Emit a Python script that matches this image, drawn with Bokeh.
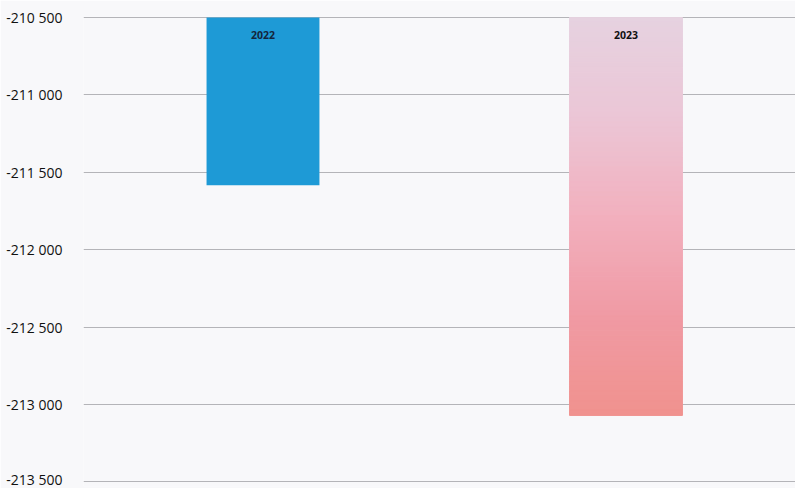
import numpy as np
from bokeh.plotting import figure
from bokeh.models import Range1d, FixedTicker
from bokeh.core.properties import value
from bokeh.embed import file_html
from bokeh.resources import INLINE

# ---- data ----
years = ["2022", "2023"]
values = [-211584, -213071]
tick_values = [-213500, -213000, -212500, -212000, -211500, -211000, -210500]
tick_labels = ["-213 500", "-213 000", "-212 500", "-212 000", "-211 500", "-211 000", "-210 500"]

BG = "#f8f8fa"
p = figure(width=795, height=488, output_backend="svg", toolbar_location=None,
           x_range=Range1d(-0.4945, 1.467), y_range=Range1d(-213530, -210494),
           background_fill_color=BG, border_fill_color=BG,
           min_border_left=83, min_border_right=0, min_border_top=16, min_border_bottom=2)
p.outline_line_color = None
p.xaxis.visible = False
p.xgrid.visible = False

p.yaxis.ticker = FixedTicker(ticks=tick_values)
p.yaxis.major_label_overrides = {v: s for v, s in zip(tick_values, tick_labels)}
p.yaxis.axis_line_color = None
p.yaxis.major_tick_line_color = None
p.yaxis.minor_tick_line_color = None
p.yaxis.major_label_standoff = 15
p.yaxis.major_label_text_font = "Open Sans"
p.yaxis.major_label_text_font_size = "14px"
p.yaxis.major_label_text_color = "#111111"
p.ygrid.grid_line_color = "#b4b4b8"
p.ygrid.grid_line_width = 1

xs = list(range(len(years)))
bw = 0.311
top_vis = tick_values[-1]

# 2022 bar solid blue
p.vbar(x=[xs[0]], top=[top_vis], bottom=[values[0]], width=bw,
       fill_color="#1e9ad6", line_color=None)

# 2023 bar gradient (strips between visible top and bar bottom)
stops = np.array([[230, 210, 224], [235, 198, 214], [242, 176, 190],
                  [240, 154, 164], [240, 146, 142]], dtype=float)
n = 80
edges = np.linspace(top_vis, values[1], n + 1)
t = (np.arange(n) + 0.5) / n
pos = np.linspace(0, 1, len(stops))
cols = []
for tt in t:
    rgb = [np.interp(tt, pos, stops[:, k]) for k in range(3)]
    cols.append("#%02x%02x%02x" % tuple(int(round(c)) for c in rgb))
p.quad(left=[xs[1] - bw / 2] * n, right=[xs[1] + bw / 2] * n,
       top=list(edges[:-1]), bottom=list(edges[1:]),
       fill_color=cols, line_color=cols, line_width=1)

# labels
p.text(x=xs, y=[top_vis] * len(xs), text=years, y_offset=18,
       text_align="center", text_baseline="middle",
       text_font=value("Open Sans"), text_font_style="bold",
       text_font_size="10.5px", text_color=["#14263d", "#111111"])

open("out.html", "w").write(file_html(p, INLINE))
